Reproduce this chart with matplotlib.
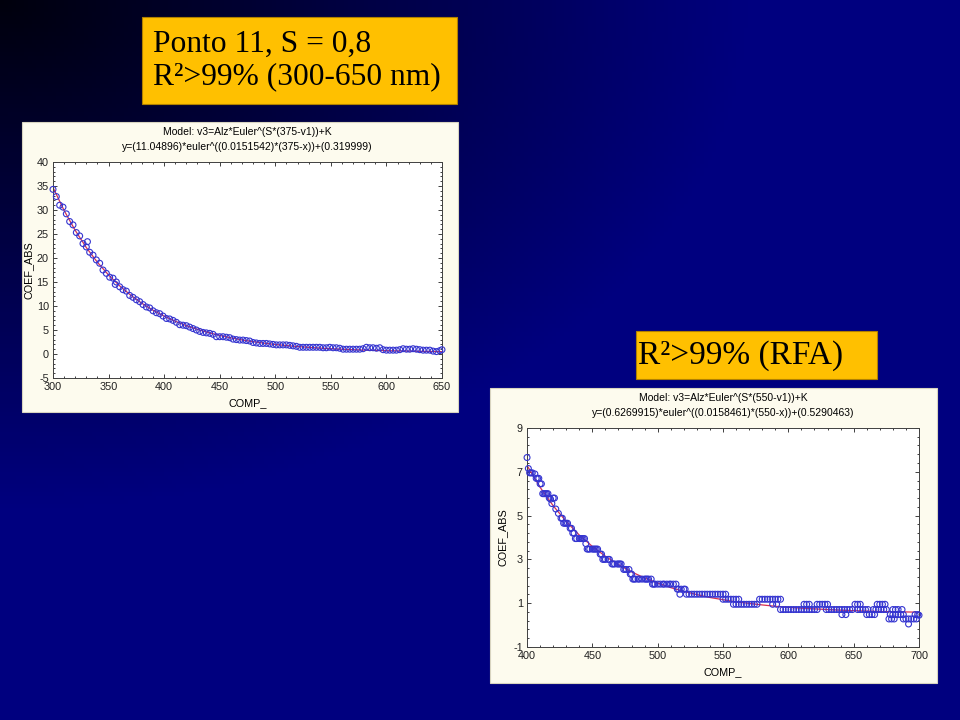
import numpy as np
import matplotlib.pyplot as plt
from matplotlib.patches import Rectangle
from matplotlib.ticker import AutoMinorLocator

plt.rcParams['font.family'] = ['Liberation Sans', 'DejaVu Sans']
plt.rcParams['axes.unicode_minus'] = False

# panel 1 (300-650 nm)
p1_x = [300, 303, 306, 309, 312, 315, 318, 321, 324, 327, 330, 331, 333, 336, 339,
        342, 345, 348, 351, 354, 356, 357, 360, 363, 366, 369, 372, 375, 378, 381,
        384, 387, 390, 393, 396, 399, 402, 405, 408, 411, 414, 417, 420, 423, 426,
        429, 432, 435, 438, 441, 444, 447, 450, 453, 456, 459, 462, 465, 468, 471,
        474, 477, 480, 483, 486, 489, 492, 495, 498, 501, 504, 507, 510, 513, 516,
        519, 522, 525, 528, 531, 534, 537, 540, 543, 546, 549, 552, 555, 558, 561,
        564, 567, 570, 573, 576, 579, 582, 585, 588, 591, 594, 597, 600, 603, 606,
        609, 612, 615, 618, 621, 624, 627, 630, 633, 636, 639, 642, 645, 648, 650]
p1_y = [34.3, 32.8, 31.0, 30.6, 29.2, 27.6, 26.9, 25.3, 24.6, 23.0, 22.3, 23.4, 21.2, 20.6, 19.6,
        18.9, 17.5, 16.8, 16.0, 15.8, 14.5, 15.0, 14.0, 13.4, 13.1, 12.2, 11.8, 11.3, 10.9, 10.3,
        9.8, 9.6, 9.0, 8.6, 8.4, 7.9, 7.4, 7.3, 7.0, 6.6, 6.1, 6.0, 5.9, 5.6, 5.3,
        5.0, 4.7, 4.5, 4.4, 4.3, 4.1, 3.6, 3.6, 3.6, 3.5, 3.4, 3.1, 3.0, 2.9, 2.9,
        2.8, 2.7, 2.4, 2.3, 2.2, 2.2, 2.2, 2.1, 2.0, 1.9, 1.9, 1.9, 1.9, 1.8, 1.7,
        1.6, 1.4, 1.4, 1.4, 1.4, 1.4, 1.4, 1.4, 1.3, 1.3, 1.4, 1.3, 1.3, 1.2, 1.0,
        1.0, 1.0, 1.0, 1.0, 1.0, 1.1, 1.4, 1.3, 1.3, 1.2, 1.3, 0.9, 0.8, 0.8, 0.8,
        0.8, 0.9, 1.1, 1.0, 1.0, 1.1, 1.0, 0.9, 0.8, 0.8, 0.8, 0.6, 0.5, 0.7, 0.9]
fit1_x = [300, 310, 320, 330, 340, 350, 360, 370, 380, 390, 400, 410, 420, 430,
          440, 450, 460, 470, 480, 490, 500, 520, 540, 560, 580, 600, 625, 650]
fit1_y = [34.7, 29.9, 25.75, 22.17, 19.1, 16.46, 14.19, 12.24, 10.56, 9.12, 7.89, 6.82, 5.91, 5.12,
          4.45, 3.87, 3.37, 2.94, 2.57, 2.26, 1.98, 1.55, 1.23, 0.99, 0.81, 0.69, 0.57, 0.49]

# panel 2 (400-700 nm)
p2_x = [400, 401, 402, 403, 404, 406, 407, 408, 409, 410, 411, 412, 413, 414, 415, 416, 417, 418, 419, 420,
        421, 422, 424, 426, 427, 428, 429, 430, 431, 433, 434, 435, 436, 437, 438, 440, 441, 442, 443, 444,
        445, 446, 447, 448, 450, 451, 452, 453, 454, 456, 457, 458, 459, 460, 462, 463, 465, 466, 467, 469,
        470, 471, 472, 474, 475, 476, 478, 479, 480, 481, 482, 483, 485, 486, 488, 490, 491, 492, 493, 495,
        496, 497, 498, 500, 502, 504, 505, 507, 509, 510, 512, 514, 515, 516, 517, 518, 520, 521, 522, 524,
        526, 528, 530, 532, 534, 536, 538, 540, 542, 544, 546, 548, 550, 552, 550, 552, 554, 556, 558, 560,
        562, 558, 560, 562, 564, 566, 568, 570, 572, 574, 576, 578, 580, 582, 584, 586, 588, 590, 592, 594,
        588, 591, 594, 596, 598, 600, 602, 604, 606, 608, 610, 612, 614, 616, 618, 620, 622, 612, 614, 616,
        622, 624, 626, 628, 630, 629, 631, 633, 635, 637, 639, 641, 643, 645, 647, 649, 641, 644, 651, 653,
        655, 653, 655, 657, 659, 661, 660, 662, 664, 666, 665, 667, 669, 671, 673, 675, 668, 670, 672, 674,
        677, 679, 681, 678, 680, 682, 684, 686, 688, 680, 682, 684, 687, 688, 690, 692, 694, 696, 698, 692,
        697, 699, 700]
p2_y = [7.65, 7.15, 6.95, 6.95, 6.95, 6.9, 6.7, 6.7, 6.7, 6.45, 6.45, 6.0, 6.0, 6.0, 6.0, 6.0, 5.8, 5.75, 5.55, 5.8,
        5.8, 5.3, 5.1, 4.88, 4.88, 4.65, 4.65, 4.65, 4.65, 4.42, 4.42, 4.2, 4.2, 3.95, 3.95, 3.95, 3.95, 3.95, 3.95, 3.95,
        3.72, 3.47, 3.47, 3.47, 3.47, 3.47, 3.47, 3.47, 3.47, 3.24, 3.24, 3.0, 3.0, 3.0, 3.0, 3.0, 2.79, 2.79, 2.79, 2.79,
        2.79, 2.79, 2.79, 2.54, 2.54, 2.54, 2.54, 2.33, 2.33, 2.1, 2.1, 2.1, 2.1, 2.1, 2.1, 2.1, 2.1, 2.1, 2.1, 2.1,
        1.87, 1.87, 1.87, 1.87, 1.87, 1.87, 1.87, 1.87, 1.87, 1.87, 1.87, 1.87, 1.64, 1.64, 1.41, 1.64, 1.64, 1.64, 1.41, 1.41,
        1.41, 1.41, 1.41, 1.41, 1.41, 1.41, 1.41, 1.41, 1.41, 1.41, 1.41, 1.41, 1.41, 1.41, 1.18, 1.18, 1.18, 1.18, 1.18, 1.18,
        1.18, 0.95, 0.95, 0.95, 0.95, 0.95, 0.95, 0.95, 0.95, 0.95, 0.95, 1.18, 1.18, 1.18, 1.18, 1.18, 1.18, 1.18, 1.18, 1.18,
        0.95, 0.95, 0.71, 0.71, 0.71, 0.71, 0.71, 0.71, 0.71, 0.71, 0.71, 0.71, 0.71, 0.71, 0.71, 0.71, 0.71, 0.95, 0.95, 0.95,
        0.95, 0.95, 0.95, 0.95, 0.95, 0.71, 0.71, 0.71, 0.71, 0.71, 0.71, 0.71, 0.71, 0.71, 0.71, 0.71, 0.48, 0.48, 0.95, 0.95,
        0.95, 0.71, 0.71, 0.71, 0.71, 0.71, 0.48, 0.48, 0.48, 0.48, 0.71, 0.71, 0.71, 0.71, 0.71, 0.71, 0.95, 0.95, 0.95, 0.95,
        0.28, 0.28, 0.28, 0.48, 0.48, 0.48, 0.48, 0.48, 0.48, 0.71, 0.71, 0.71, 0.71, 0.28, 0.28, 0.28, 0.28, 0.28, 0.28, 0.05,
        0.48, 0.48, 0.45]
fit2_x = [400, 410, 420, 430, 440, 450, 460, 470, 480, 490, 500, 510, 520, 530, 540, 550,
          560, 570, 580, 590, 600, 610, 620, 630, 640, 650, 660, 670, 680, 690, 700]
fit2_y = [7.29, 6.29, 5.45, 4.73, 4.11, 3.59, 3.14, 2.76, 2.43, 2.15, 1.92, 1.71, 1.54, 1.39, 1.26, 1.16,
          1.06, 0.99, 0.92, 0.86, 0.81, 0.77, 0.74, 0.71, 0.68, 0.66, 0.64, 0.62, 0.61, 0.60, 0.59]

titles = ['Ponto 11, S = 0,8\nR²>99% (300-650 nm)', 'R²>99% (RFA)']
models = ['Model: v3=Alz*Euler^(S*(375-v1))+K', 'Model: v3=Alz*Euler^(S*(550-v1))+K']
eqs = ['y=(11.04896)*euler^((0.0151542)*(375-x))+(0.319999)',
       'y=(0.6269915)*euler^((0.0158461)*(550-x))+(0.5290463)']

fig = plt.figure(figsize=(9.6, 7.2), dpi=100)

# slide background, dark in the top-left corner going to navy
bg = fig.add_axes([0, 0, 1, 1], zorder=-10)
u, v = np.meshgrid(np.linspace(0, 1, 240), np.linspace(0, 1, 180))
t = np.clip(0.1 + 1.15 * np.hypot(u, 1.1 * v), 0, 1)
bg.imshow(np.dstack([t * 0.0, t * 0.0, t * 0.5]), aspect='auto', extent=[0, 1, 1, 0])
bg.set_xlim(0, 1)
bg.set_ylim(1, 0)
bg.axis('off')

# yellow title boxes
for rect in ([0.1479, 0.8556, 0.328, 0.1208], [0.6625, 0.4736, 0.251, 0.0667]):
    fig.patches.append(Rectangle(rect[:2], rect[2], rect[3], transform=fig.transFigure,
                                 facecolor='#ffc000', edgecolor='#b08000', lw=0.8, zorder=2))
fig.text(0.1594, 0.916, titles[0], fontsize=22.7, family='Liberation Serif', va='center',
         linespacing=1.17, zorder=6)
fig.text(0.6646, 0.506, titles[1], fontsize=24, family='Liberation Serif', va='center', zorder=6)


def panel(frame, rect, x, y, fx, fy, xlim, ylim, xticks, yticks, model, eq):
    fig.patches.append(Rectangle(frame[:2], frame[2], frame[3], transform=fig.transFigure,
                                 facecolor='#fdfbee', edgecolor='#d8d4c0', lw=0.8, zorder=3))
    ax = fig.add_axes(rect, zorder=5)
    ax.plot(fx, fy, color='#d83050', lw=0.9, zorder=2)
    ax.scatter(x, y, s=18, facecolors='none', edgecolors='#3434d0', linewidths=0.8, zorder=3,
               clip_on=False)
    ax.set_xlim(*xlim)
    ax.set_ylim(*ylim)
    ax.set_xticks(xticks)
    ax.set_yticks(yticks)
    ax.xaxis.set_minor_locator(AutoMinorLocator(5))
    ax.yaxis.set_minor_locator(AutoMinorLocator(5))
    ax.tick_params(which='both', direction='in', top=True, right=True, labelsize=7.8,
                   colors='#202020', width=0.6)
    ax.tick_params(which='major', length=3, pad=3)
    ax.tick_params(which='minor', length=1.5)
    for s in ax.spines.values():
        s.set_linewidth(0.7)
        s.set_color('#404040')
    h = rect[3] * 720
    w = rect[2] * 960
    ax.text(0.5, 1 + 30 / h, model, transform=ax.transAxes, ha='center', va='center', fontsize=7.5)
    ax.text(0.5, 1 + 15 / h, eq, transform=ax.transAxes, ha='center', va='center', fontsize=7.5)
    ax.text(0.5, -25 / h, 'COMP_', transform=ax.transAxes, ha='center', va='center', fontsize=7.8)
    ax.text(-24 / w, 0.5, 'COEF_ABS', transform=ax.transAxes, ha='center', va='center',
            rotation=90, fontsize=7.8)
    return ax


panel([0.0229, 0.4278, 0.4542, 0.4028], [0.0552, 0.475, 0.4052, 0.3],
      p1_x, p1_y, fit1_x, fit1_y, (300, 650), (-5, 40),
      [300, 350, 400, 450, 500, 550, 600, 650], [-5, 0, 5, 10, 15, 20, 25, 30, 35, 40],
      models[0], eqs[0])
panel([0.5104, 0.0514, 0.4656, 0.4097], [0.549, 0.1014, 0.4083, 0.3042],
      p2_x, p2_y, fit2_x, fit2_y, (400, 700), (-1, 9),
      [400, 450, 500, 550, 600, 650, 700], [-1, 1, 3, 5, 7, 9],
      models[1], eqs[1])

fig.savefig('out.png', dpi=100)
